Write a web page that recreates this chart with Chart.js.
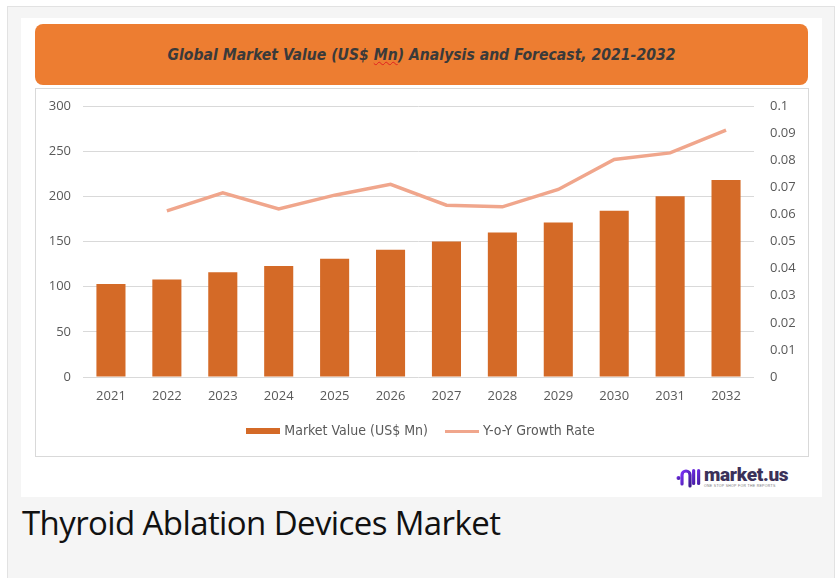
<!DOCTYPE html>
<html>
<head>
<meta charset="utf-8">
<script src="https://cdn.jsdelivr.net/npm/chart.js@4/dist/chart.umd.min.js"></script>
<style>
  html, body { margin: 0; padding: 0; background: #ffffff; width: 838px; height: 578px; overflow: hidden; }
  #card { position: absolute; left: 7px; top: 6px; width: 828px; height: 580px; background: #f5f5f5; border: 1px solid #e2e2e2; box-sizing: border-box; }
  #img { position: absolute; left: 21px; top: 18px; width: 801px; height: 479px; background: #ffffff; }
  #banner { position: absolute; left: 35px; top: 24px; width: 773px; height: 61px; background: #ED7D31; border-radius: 8px;
            display: flex; align-items: center; justify-content: center;
            font-family: 'Liberation Sans Narrow', 'DejaVu Sans Condensed', 'Liberation Sans', sans-serif;
            font-style: italic; font-weight: bold; font-size: 15.6px; color: #3a3a3a; }
  .sq { text-decoration: underline wavy #e02020; text-decoration-thickness: 1px; }
  #box { position: absolute; left: 35px; top: 88px; width: 772px; height: 367px; border: 1px solid #d9d9d9; background: #fff; }
  #chartWrap { position: absolute; left: 0; top: 0; width: 772px; height: 367px; }
  #logo { position: absolute; left: 676px; top: 463px; height: 28px; display: flex; align-items: center; }
  #logo .t { font-family: 'Roboto', 'Liberation Sans', sans-serif; font-weight: 900; font-size: 19px; color: #3b3159; letter-spacing: -0.3px; line-height: 18px; }
  #logo .s { font-family: 'Liberation Sans', sans-serif; font-size: 3.5px; color: #777; letter-spacing: 0.3px; }
  #caption { position: absolute; left: 22px; top: 500px; font-family: 'Open Sans', sans-serif; font-size: 33px; color: #111; letter-spacing: -0.6px; white-space: nowrap; }
</style>
</head>
<body>
<div id="card"></div>
<div id="img"></div>
<div id="banner">Global Market Value (US$&nbsp;<span class="sq">Mn</span>) Analysis and Forecast, 2021-2032</div>
<div id="box"><div id="chartWrap"><canvas id="c"></canvas></div></div>
<div id="logo">
  <svg width="26" height="22" viewBox="0 0 26 22">
    <defs><linearGradient id="g" x1="0" y1="0" x2="1" y2="1"><stop offset="0" stop-color="#7b2ff7"/><stop offset="1" stop-color="#3b1c8c"/></linearGradient></defs>
    <circle cx="2.5" cy="12" r="2" fill="url(#g)"/>
    <path d="M6 18 V9 a4 4 0 0 1 8 0 V20" stroke="url(#g)" stroke-width="3.2" fill="none" stroke-linecap="round"/>
    <rect x="16" y="3" width="3.2" height="16" rx="1.6" fill="url(#g)"/>
    <rect x="21" y="3" width="3.2" height="16" rx="1.6" fill="url(#g)"/>
  </svg>
  <div style="margin-left:2px; display:flex; flex-direction:column;">
    <span class="t">market.us</span>
    <span class="s">ONE STOP SHOP FOR THE REPORTS</span>
  </div>
</div>
<div id="caption">Thyroid Ablation Devices Market</div>

<script>
// ---- data ----
const years = ['2021','2022','2023','2024','2025','2026','2027','2028','2029','2030','2031','2032'];
const marketValue = [103, 108, 116, 123, 131, 141, 150, 160, 171, 184, 200, 218];
const growthRate = [null, 0.0613, 0.0680, 0.0620, 0.0671, 0.0711, 0.0634, 0.0628, 0.0692, 0.0803, 0.0827, 0.0911];
const leftTicks = [0, 50, 100, 150, 200, 250, 300];
const rightTicks = ['0','0.01','0.02','0.03','0.04','0.05','0.06','0.07','0.08','0.09','0.1'];
const seriesNames = ['Market Value (US$ Mn)', 'Y-o-Y Growth Rate'];

const barColor = '#D46A27';
const lineColor = '#F0A68C';
const textColor = '#595959';

function swatch(w, h, color) {
  const cv = document.createElement('canvas');
  cv.width = w; cv.height = h;
  const cx = cv.getContext('2d');
  cx.fillStyle = color; cx.fillRect(0, 0, w, h);
  return cv;
}
const barSwatch = swatch(34, 6, barColor);
const lineSwatch = swatch(34, 3, lineColor);

new Chart(document.getElementById('c'), {
  data: {
    labels: years,
    datasets: [
      { type: 'bar', label: seriesNames[0], data: marketValue, backgroundColor: barColor, yAxisID: 'y',
        barPercentage: 0.52, categoryPercentage: 1.0, order: 2 },
      { type: 'line', label: seriesNames[1], data: growthRate, borderColor: lineColor, backgroundColor: lineColor,
        borderWidth: 3.5, pointRadius: 0, tension: 0, yAxisID: 'y1', order: 1, spanGaps: false }
    ]
  },
  options: {
    responsive: true,
    maintainAspectRatio: false,
    animation: false,
    layout: { padding: { top: 17, bottom: 8, left: 0, right: 0 } },
    plugins: {
      tooltip: { enabled: false },
      legend: {
        position: 'bottom',
        labels: {
          usePointStyle: true,
          pointStyleWidth: 28,
          padding: 20,
          color: textColor,
          font: { family: "'Liberation Sans Narrow', 'DejaVu Sans Condensed', sans-serif", size: 14 },
          generateLabels: (chart) => chart.data.datasets.map((ds, i) => ({
            text: ds.label, pointStyle: i === 0 ? barSwatch : lineSwatch,
            fillStyle: ds.backgroundColor, strokeStyle: ds.backgroundColor, lineWidth: 0,
            fontColor: textColor, datasetIndex: i, hidden: false
          }))
        }
      }
    },
    scales: {
      x: {
        grid: { display: false, drawTicks: false },
        border: { display: false },
        afterFit: (s) => { s.height = 27; },
        ticks: { color: textColor, padding: 11, font: { family: "'Open Sans', sans-serif", size: 13 }, maxRotation: 0 }
      },
      y: {
        position: 'left', min: 0, max: 300,
        afterBuildTicks: (s) => { s.ticks = leftTicks.map(v => ({ value: v })); },
        afterFit: (s) => { s.width = 47; },
        grid: { color: '#D9D9D9', lineWidth: 1, drawTicks: true, tickLength: 12, tickColor: 'rgba(0,0,0,0)' },
        border: { display: false },
        ticks: { color: textColor, padding: 0, font: { family: "'Open Sans', sans-serif", size: 13 } }
      },
      y1: {
        position: 'right', min: 0, max: 0.1,
        afterBuildTicks: (s) => { s.ticks = rightTicks.map(v => ({ value: parseFloat(v) })); },
        afterFit: (s) => { s.width = 54; },
        grid: { display: false, drawTicks: true, tickLength: 16, tickColor: 'rgba(0,0,0,0)' },
        border: { display: false },
        ticks: { color: textColor, padding: 0, font: { family: "'Open Sans', sans-serif", size: 13 },
                 callback: (v, i) => rightTicks[i] }
      }
    }
  }
});
</script>
</body>
</html>
